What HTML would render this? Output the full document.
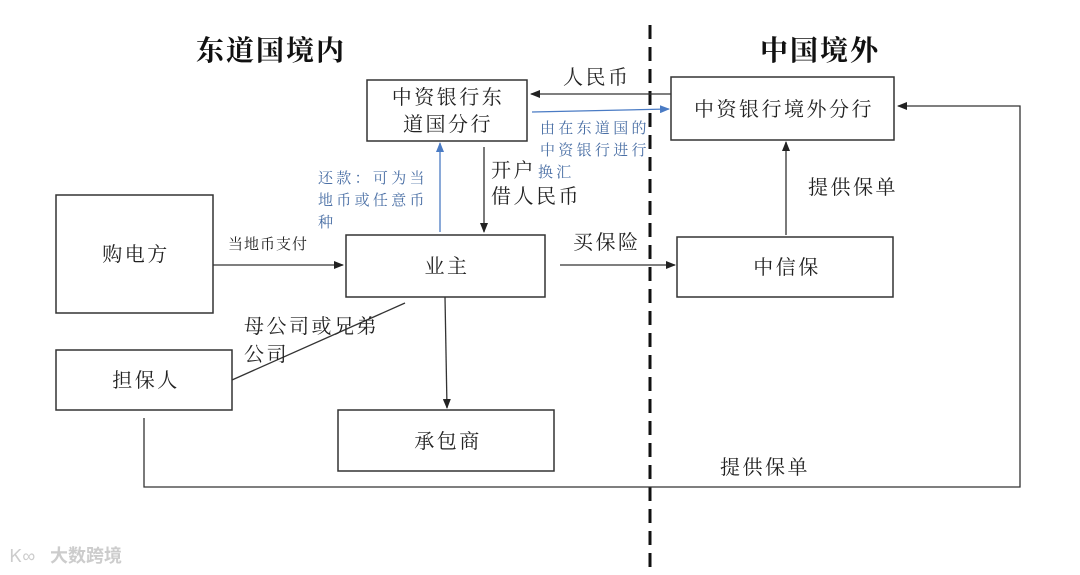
<!DOCTYPE html>
<html><head><meta charset="utf-8"><style>
body{margin:0;background:#fff;}
svg{display:block;font-family:"Liberation Serif","Noto Serif CJK SC",serif;}
.t{font-size:20px;fill:#222;letter-spacing:2.5px;}
.b{font-size:15px;fill:#4a6fa5;letter-spacing:3.3px;}
</style></head><body>
<svg width="1080" height="575" viewBox="0 0 1080 575" xmlns="http://www.w3.org/2000/svg">
<defs>
<marker id="a" markerWidth="10" markerHeight="8" refX="9" refY="4" orient="auto" markerUnits="userSpaceOnUse"><path d="M0,0 L10,4 L0,8z" fill="#222"/></marker>
<marker id="ab" markerWidth="10" markerHeight="8" refX="9" refY="4" orient="auto" markerUnits="userSpaceOnUse"><path d="M0,0 L10,4 L0,8z" fill="#4a7bc4"/></marker>
</defs>
<text x="196" y="60" font-size="28" font-weight="bold" fill="#111" letter-spacing="2">东道国境内</text>
<text x="760" y="60" font-size="28" font-weight="bold" fill="#111" letter-spacing="2">中国境外</text>
<line x1="650" y1="25" x2="650" y2="575" stroke="#111" stroke-width="3" stroke-dasharray="14,8"/>
<g fill="none" stroke="#333" stroke-width="1.5">
<rect x="367" y="80" width="160" height="61"/>
<rect x="671" y="77" width="223" height="63"/>
<rect x="56" y="195" width="157" height="118"/>
<rect x="346" y="235" width="199" height="62"/>
<rect x="677" y="237" width="216" height="60"/>
<rect x="56" y="350" width="176" height="60"/>
<rect x="338" y="410" width="216" height="61"/>
</g>
<g stroke="#333" stroke-width="1.3" fill="none">
<line x1="671" y1="94" x2="531" y2="94" marker-end="url(#a)"/>
<line x1="484" y1="147" x2="484" y2="232" marker-end="url(#a)"/>
<line x1="213" y1="265" x2="343" y2="265" marker-end="url(#a)"/>
<line x1="560" y1="265" x2="675" y2="265" marker-end="url(#a)"/>
<line x1="445" y1="297" x2="447" y2="408" marker-end="url(#a)"/>
<line x1="232" y1="380" x2="405" y2="303"/>
<line x1="786" y1="235" x2="786" y2="142" marker-end="url(#a)"/>
<polyline points="144,418 144,487 1020,487 1020,106 898,106" marker-end="url(#a)"/>
</g>
<g stroke="#4a7bc4" stroke-width="1.3">
<line x1="532" y1="112" x2="669" y2="109" marker-end="url(#ab)"/>
<line x1="440" y1="232" x2="440" y2="143" marker-end="url(#ab)"/>
</g>
<text class="t" x="448" y="104" text-anchor="middle">中资银行东</text>
<text class="t" x="448" y="131" text-anchor="middle">道国分行</text>
<text class="t" x="784" y="116" text-anchor="middle">中资银行境外分行</text>
<text class="t" x="136" y="261" text-anchor="middle">购电方</text>
<text class="t" x="447" y="273" text-anchor="middle">业主</text>
<text class="t" x="787" y="274" text-anchor="middle">中信保</text>
<text class="t" x="146" y="387" text-anchor="middle">担保人</text>
<text class="t" x="448" y="448" text-anchor="middle">承包商</text>
<text class="t" x="563" y="84">人民币</text>
<text class="b" x="540" y="133">由在东道国的</text>
<text class="b" x="540" y="155">中资银行进行</text>
<text class="t" x="491" y="177">开户</text>
<text class="b" x="538" y="177">换汇</text>
<text class="t" x="491" y="203">借人民币</text>
<text class="b" x="318" y="183">还款：可为当</text>
<text class="b" x="318" y="205">地币或任意币</text>
<text class="b" x="318" y="227">种</text>
<text x="228" y="249" font-size="15" fill="#222" letter-spacing="1">当地币支付</text>
<text class="t" x="573" y="249">买保险</text>
<text class="t" x="808" y="194">提供保单</text>
<text class="t" x="244" y="333">母公司或兄弟</text>
<text class="t" x="244" y="361">公司</text>
<text class="t" x="720" y="474">提供保单</text>
<text x="50" y="562" font-size="18" fill="#ccc" font-family="Liberation Sans,Noto Sans CJK SC,sans-serif" font-weight="bold">大数跨境</text>
<text x="10" y="562" font-size="18" fill="#ccc" font-family="Liberation Sans,sans-serif">Ꮶ∞</text>
</svg>
</body></html>
